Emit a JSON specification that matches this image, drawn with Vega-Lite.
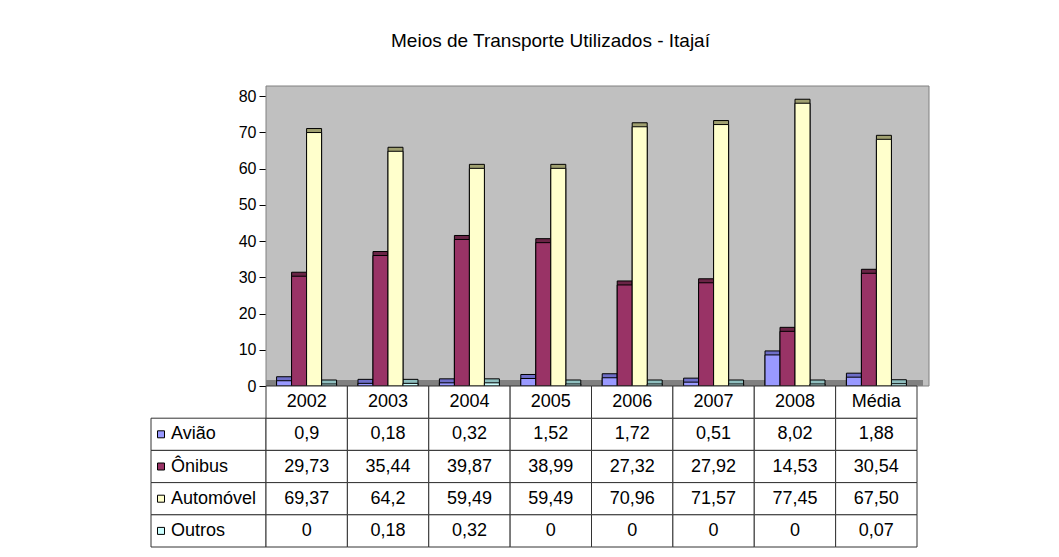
{
  "$schema": "https://vega.github.io/schema/vega-lite/v6.json",
  "padding": {"left": 150, "top": 31, "right": 5, "bottom": 5},
  "background": "white",
  "config": {"view": {"stroke": null}, "font": "Liberation Sans"},
  "datasets": {
    "transp": [
      {"ano": "2002", "serie": "Avião", "valor": 0.9, "rotulo": "0,9"},
      {"ano": "2002", "serie": "Ônibus", "valor": 29.73, "rotulo": "29,73"},
      {"ano": "2002", "serie": "Automóvel", "valor": 69.37, "rotulo": "69,37"},
      {"ano": "2002", "serie": "Outros", "valor": 0, "rotulo": "0"},
      {"ano": "2003", "serie": "Avião", "valor": 0.18, "rotulo": "0,18"},
      {"ano": "2003", "serie": "Ônibus", "valor": 35.44, "rotulo": "35,44"},
      {"ano": "2003", "serie": "Automóvel", "valor": 64.2, "rotulo": "64,2"},
      {"ano": "2003", "serie": "Outros", "valor": 0.18, "rotulo": "0,18"},
      {"ano": "2004", "serie": "Avião", "valor": 0.32, "rotulo": "0,32"},
      {"ano": "2004", "serie": "Ônibus", "valor": 39.87, "rotulo": "39,87"},
      {"ano": "2004", "serie": "Automóvel", "valor": 59.49, "rotulo": "59,49"},
      {"ano": "2004", "serie": "Outros", "valor": 0.32, "rotulo": "0,32"},
      {"ano": "2005", "serie": "Avião", "valor": 1.52, "rotulo": "1,52"},
      {"ano": "2005", "serie": "Ônibus", "valor": 38.99, "rotulo": "38,99"},
      {"ano": "2005", "serie": "Automóvel", "valor": 59.49, "rotulo": "59,49"},
      {"ano": "2005", "serie": "Outros", "valor": 0, "rotulo": "0"},
      {"ano": "2006", "serie": "Avião", "valor": 1.72, "rotulo": "1,72"},
      {"ano": "2006", "serie": "Ônibus", "valor": 27.32, "rotulo": "27,32"},
      {"ano": "2006", "serie": "Automóvel", "valor": 70.96, "rotulo": "70,96"},
      {"ano": "2006", "serie": "Outros", "valor": 0, "rotulo": "0"},
      {"ano": "2007", "serie": "Avião", "valor": 0.51, "rotulo": "0,51"},
      {"ano": "2007", "serie": "Ônibus", "valor": 27.92, "rotulo": "27,92"},
      {"ano": "2007", "serie": "Automóvel", "valor": 71.57, "rotulo": "71,57"},
      {"ano": "2007", "serie": "Outros", "valor": 0, "rotulo": "0"},
      {"ano": "2008", "serie": "Avião", "valor": 8.02, "rotulo": "8,02"},
      {"ano": "2008", "serie": "Ônibus", "valor": 14.53, "rotulo": "14,53"},
      {"ano": "2008", "serie": "Automóvel", "valor": 77.45, "rotulo": "77,45"},
      {"ano": "2008", "serie": "Outros", "valor": 0, "rotulo": "0"},
      {"ano": "Média", "serie": "Avião", "valor": 1.88, "rotulo": "1,88"},
      {"ano": "Média", "serie": "Ônibus", "valor": 30.54, "rotulo": "30,54"},
      {"ano": "Média", "serie": "Automóvel", "valor": 67.5, "rotulo": "67,50"},
      {"ano": "Média", "serie": "Outros", "valor": 0.07, "rotulo": "0,07"}
    ]
  },
  "columns": 2,
  "spacing": 0,
  "bounds": "flush",
  "align": "each",
  "concat": [
    {
      "width": 115, "height": 290,
      "data": {"values": [{}]},
      "mark": {"type": "text"},
      "encoding": {"text": {"value": ""}}
    },
    {
      "width": 651, "height": 290,
      "title": {"text": "Meios de Transporte Utilizados - Itajaí", "font": "Liberation Sans", "fontSize": 19, "fontWeight": "normal", "color": "#000000", "anchor": "middle", "frame": "group", "offset": 35, "dx": -41},
      "data": {"name": "transp"},
      "layer": [
        {
          "data": {"values": [{}]},
          "mark": {"type": "rect", "fill": "#C0C0C0", "stroke": "#808080", "strokeWidth": 1, "xOffset": 12, "x2Offset": 12, "yOffset": -10, "y2Offset": -6},
          "encoding": {}
        },
        {
          "data": {"values": [{}]},
          "mark": {"type": "rule", "color": "#808080", "strokeWidth": 6, "yOffset": -3, "xOffset": 6, "x2Offset": 6},
          "encoding": {"y": {"datum": 0, "type": "quantitative"}}
        },
        {
          "mark": {"type": "bar", "stroke": "#000000", "strokeWidth": 1, "xOffset": 7, "yOffset": -6, "y2Offset": -2},
          "encoding": {
            "x": {"field": "ano", "type": "nominal", "scale": {"domain": ["2002", "2003", "2004", "2005", "2006", "2007", "2008", "Média"], "paddingInner": 0.263, "paddingOuter": 0.13}, "axis": null},
            "xOffset": {"field": "serie", "type": "nominal", "scale": {"domain": ["Avião", "Ônibus", "Automóvel", "Outros"], "paddingInner": 0, "paddingOuter": 0}},
            "y": {"field": "valor", "type": "quantitative", "stack": null},
            "fill": {"field": "serie", "type": "nominal", "scale": {"domain": ["Avião", "Ônibus", "Automóvel", "Outros"], "range": ["#6E6EC8", "#6A2446", "#A0A070", "#8FBFBF"]}, "legend": null}
          }
        },
        {
          "mark": {"type": "bar", "stroke": "#000000", "strokeWidth": 1, "xOffset": 3, "yOffset": -2, "y2Offset": -2},
          "encoding": {
            "x": {"field": "ano", "type": "nominal", "axis": null},
            "xOffset": {"field": "serie", "type": "nominal"},
            "y": {"field": "valor", "type": "quantitative", "stack": null, "scale": {"domain": [0, 80], "nice": false},
              "axis": {"values": [0, 10, 20, 30, 40, 50, 60, 70, 80], "tickCount": 9, "labelOverlap": false, "title": null, "grid": false, "domainColor": "#000000", "tickColor": "#000000", "tickSize": 7, "labelFontSize": 16, "labelColor": "#000000", "labelPadding": 3, "labelFont": "Liberation Sans"}},
            "fill": {"field": "serie", "type": "nominal", "scale": {"domain": ["Avião", "Ônibus", "Automóvel", "Outros"], "range": ["#9999FF", "#993366", "#FFFFCC", "#CCFFFF"]}, "legend": null}
          }
        }
      ],
      "resolve": {"scale": {"fill": "independent"}}
    },
    {
      "width": 115, "height": 161,
      "data": {"name": "transp"},
      "transform": [{"filter": "datum.ano === '2002'"}],
      "encoding": {
        "y": {"field": "serie", "type": "nominal", "scale": {"type": "band", "domain": ["hdr", "Avião", "Ônibus", "Automóvel", "Outros"], "paddingInner": 0, "paddingOuter": 0}, "axis": null}
      },
      "layer": [
        {"mark": {"type": "rect", "fill": "white", "stroke": "#333333", "strokeWidth": 1}},
        {
          "mark": {"type": "point", "shape": "square", "filled": true, "size": 49, "stroke": "#000000", "strokeWidth": 1, "opacity": 1, "xOffset": 10},
          "encoding": {
            "x": {"datum": 0, "type": "quantitative", "scale": {"domain": [0, 1]}, "axis": null},
            "fill": {"field": "serie", "type": "nominal", "scale": {"domain": ["Avião", "Ônibus", "Automóvel", "Outros"], "range": ["#9999FF", "#993366", "#FFFFCC", "#CCFFFF"]}, "legend": null}
          }
        },
        {
          "mark": {"type": "text", "align": "left", "dx": 20, "fontSize": 18, "color": "#000000"},
          "encoding": {"x": {"datum": 0, "type": "quantitative"}, "text": {"field": "serie"}}
        }
      ]
    },
    {
      "width": 651, "height": 161,
      "data": {"name": "transp"},
      "encoding": {
        "x": {"field": "ano", "type": "nominal", "scale": {"domain": ["2002", "2003", "2004", "2005", "2006", "2007", "2008", "Média"], "paddingInner": 0, "paddingOuter": 0}, "axis": null}
      },
      "layer": [
        {
          "mark": {"type": "rect", "fill": "white", "stroke": "#333333", "strokeWidth": 1},
          "encoding": {"y": {"field": "serie", "type": "nominal", "scale": {"type": "band", "domain": ["hdr", "Avião", "Ônibus", "Automóvel", "Outros"], "paddingInner": 0, "paddingOuter": 0}, "axis": null}}
        },
        {
          "transform": [{"filter": "datum.serie === 'Avião'"}],
          "mark": {"type": "rect", "fill": "white", "stroke": "#333333", "strokeWidth": 1},
          "encoding": {"y": {"datum": "hdr", "type": "nominal"}}
        },
        {
          "mark": {"type": "text", "fontSize": 18, "color": "#000000"},
          "encoding": {"y": {"field": "serie", "type": "nominal"}, "text": {"field": "rotulo"}}
        },
        {
          "transform": [{"filter": "datum.serie === 'Avião'"}],
          "mark": {"type": "text", "fontSize": 18, "color": "#000000"},
          "encoding": {"y": {"datum": "hdr", "type": "nominal"}, "text": {"field": "ano"}}
        }
      ]
    }
  ]
}
